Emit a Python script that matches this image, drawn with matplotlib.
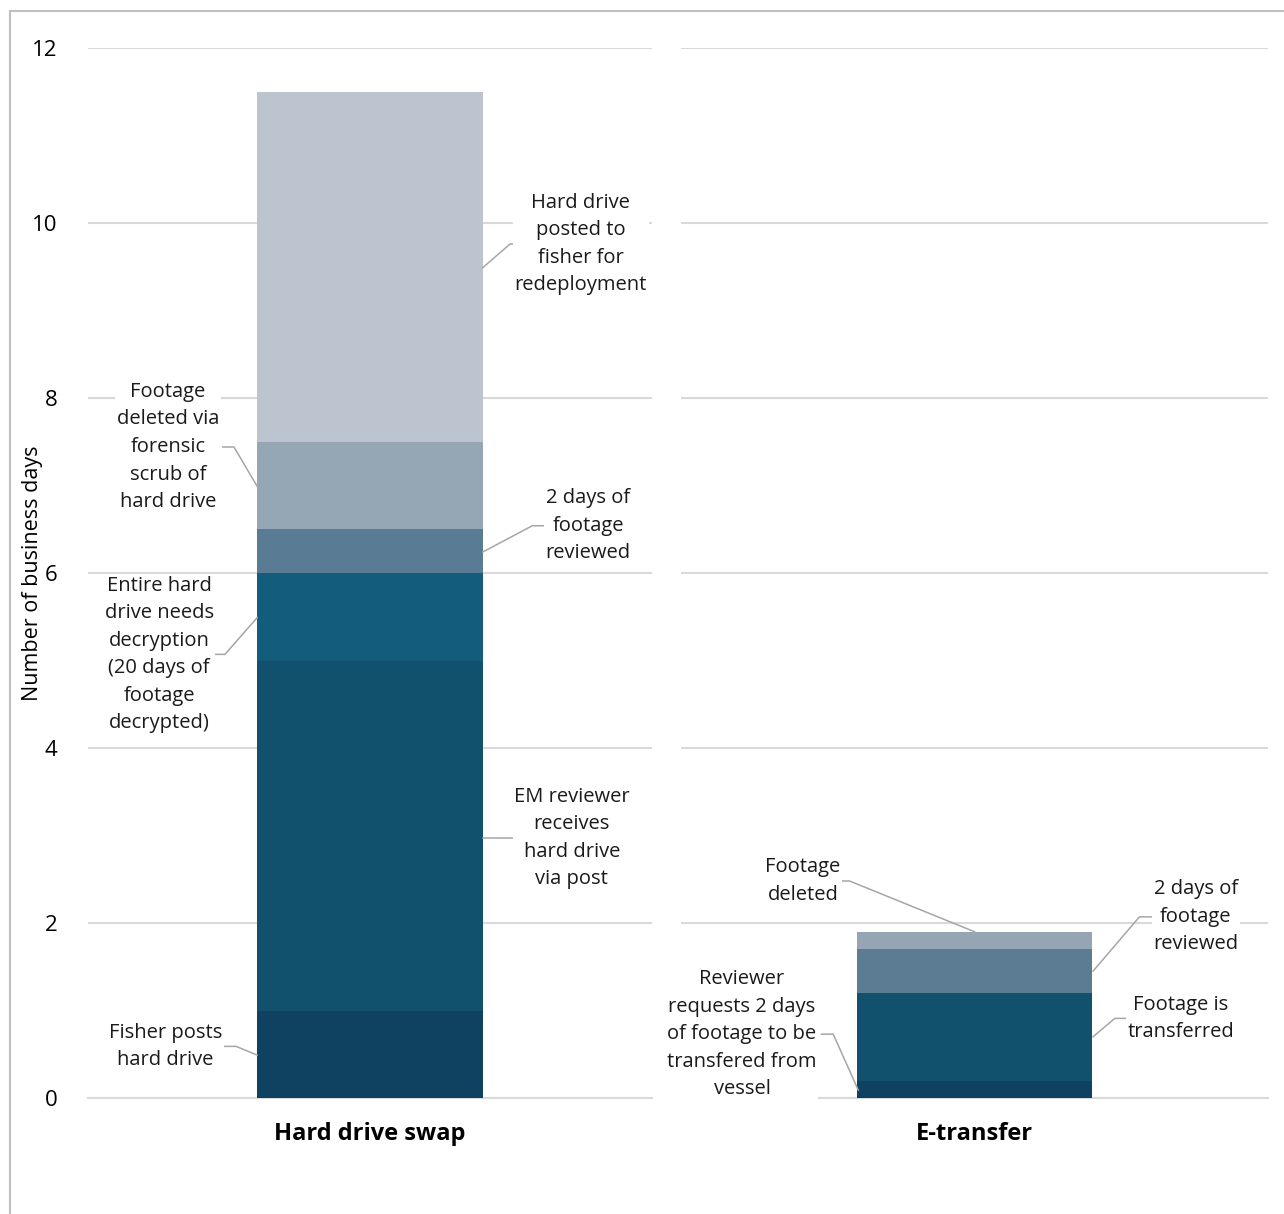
import matplotlib.pyplot as plt
from matplotlib.patches import Rectangle

plt.rcParams['font.family'] = ['Open Sans', 'DejaVu Sans']

categories = ['Hard drive swap', 'E-transfer']

# segment durations (business days), bottom to top
swap_days = [1, 4, 1, 0.5, 1, 4]
swap_colors = ['#0E4260', '#12516E', '#135C7C', '#5A7B94', '#95A6B4', '#BCC5CF']
swap_labels = ['Fisher posts\nhard drive',
               'EM reviewer\nreceives\nhard drive\nvia post',
               'Entire hard\ndrive needs\ndecryption\n(20 days of\nfootage\ndecrypted)',
               '2 days of\nfootage\nreviewed',
               'Footage\ndeleted via\nforensic\nscrub of\nhard drive',
               'Hard drive\nposted to\nfisher for\nredeployment']

etr_days = [0.2, 1, 0.5, 0.2]
etr_colors = ['#0E4260', '#12516E', '#5C7C94', '#95A5B3']
etr_labels = ['Reviewer\nrequests 2 days\nof footage to be\ntransfered from\nvessel',
              'Footage is\ntransferred',
              '2 days of\nfootage\nreviewed',
              'Footage\ndeleted']

# label placement: (text x, text y, anchor x, anchor y)
swap_pos = [(-0.363, 0.59, -0.2, 0.49),
            (0.358, 2.97, 0.2, 2.97),
            (-0.374, 5.07, -0.2, 5.49),
            (0.387, 6.54, 0.2, 6.24),
            (-0.358, 7.44, -0.2, 6.99),
            (0.374, 9.76, 0.2, 9.49)]
etr_pos = [(-0.396, 0.73, -0.198, 0.09),
           (0.352, 0.91, 0.202, 0.70),
           (0.377, 2.07, 0.202, 1.45),
           (-0.292, 2.48, 0.0, 1.9)]

fig = plt.figure(figsize=(12.84, 12.14), dpi=100)
ax1 = fig.add_axes([88 / 1284, 1 - 1098 / 1214, 564 / 1284, 1050 / 1214])
ax2 = fig.add_axes([681 / 1284, 1 - 1098 / 1214, 587 / 1284, 1050 / 1214])

grid_c = '#D9D9D9'
line_c = '#A6A6A6'


def draw(ax, name, days, colors, labels, pos, axw):
    bottom = 0
    for d, c in zip(days, colors):
        ax.bar(0, d, bottom=bottom, width=0.4, color=c, zorder=2)
        bottom += d
    for lab, (tx, ty, axx, ayy) in zip(labels, pos):
        ax.text(tx, ty, lab, ha='center', va='center', fontsize=14.5,
                linespacing=1.5, color='#1a1a1a', zorder=4,
                bbox=dict(fc='white', ec='none', pad=1))
        # leader line: short horizontal stub then diagonal to bar
        side = 1 if tx < axx else -1
        half = len(max(lab.split('\n'), key=len)) * 0.0088 * (564 / axw)
        sx = tx + side * half
        stub = sx + side * 0.02
        ax.plot([sx, stub, axx], [ty, ty, ayy], color=line_c, lw=1.1,
                zorder=3, clip_on=False)
    ax.set_xlim(-0.5, 0.5)
    ax.set_ylim(0, 12)
    ax.set_yticks(range(0, 13, 2))
    ax.yaxis.grid(True, color=grid_c, lw=1.5, zorder=0)
    ax.set_axisbelow(True)
    ax.set_xticks([0])
    ax.set_xticklabels([name], fontsize=17, fontweight='bold')
    ax.tick_params(axis='x', length=0, pad=17)
    for s in ['top', 'right', 'left']:
        ax.spines[s].set_visible(False)
    ax.spines['bottom'].set_color(grid_c)
    ax.spines['bottom'].set_linewidth(1.5)
    ax.spines['bottom'].set_zorder(0)


draw(ax1, categories[0], swap_days, swap_colors, swap_labels, swap_pos, 564)
draw(ax2, categories[1], etr_days, etr_colors, etr_labels, etr_pos, 587)

ax1.tick_params(axis='y', length=0, pad=22, labelsize=16)
ax1.set_ylabel('Number of business days', fontsize=15.5)
ax1.yaxis.set_label_coords(-0.08, 0.5)
ax2.tick_params(axis='y', length=0, labelleft=False)

fig.add_artist(Rectangle((10 / 1284, -0.1), 1.2, 1.1 - 11 / 1214,
                         transform=fig.transFigure, fill=False,
                         ec='#BFBFBF', lw=1.5))

fig.savefig('out.png', dpi=100)
